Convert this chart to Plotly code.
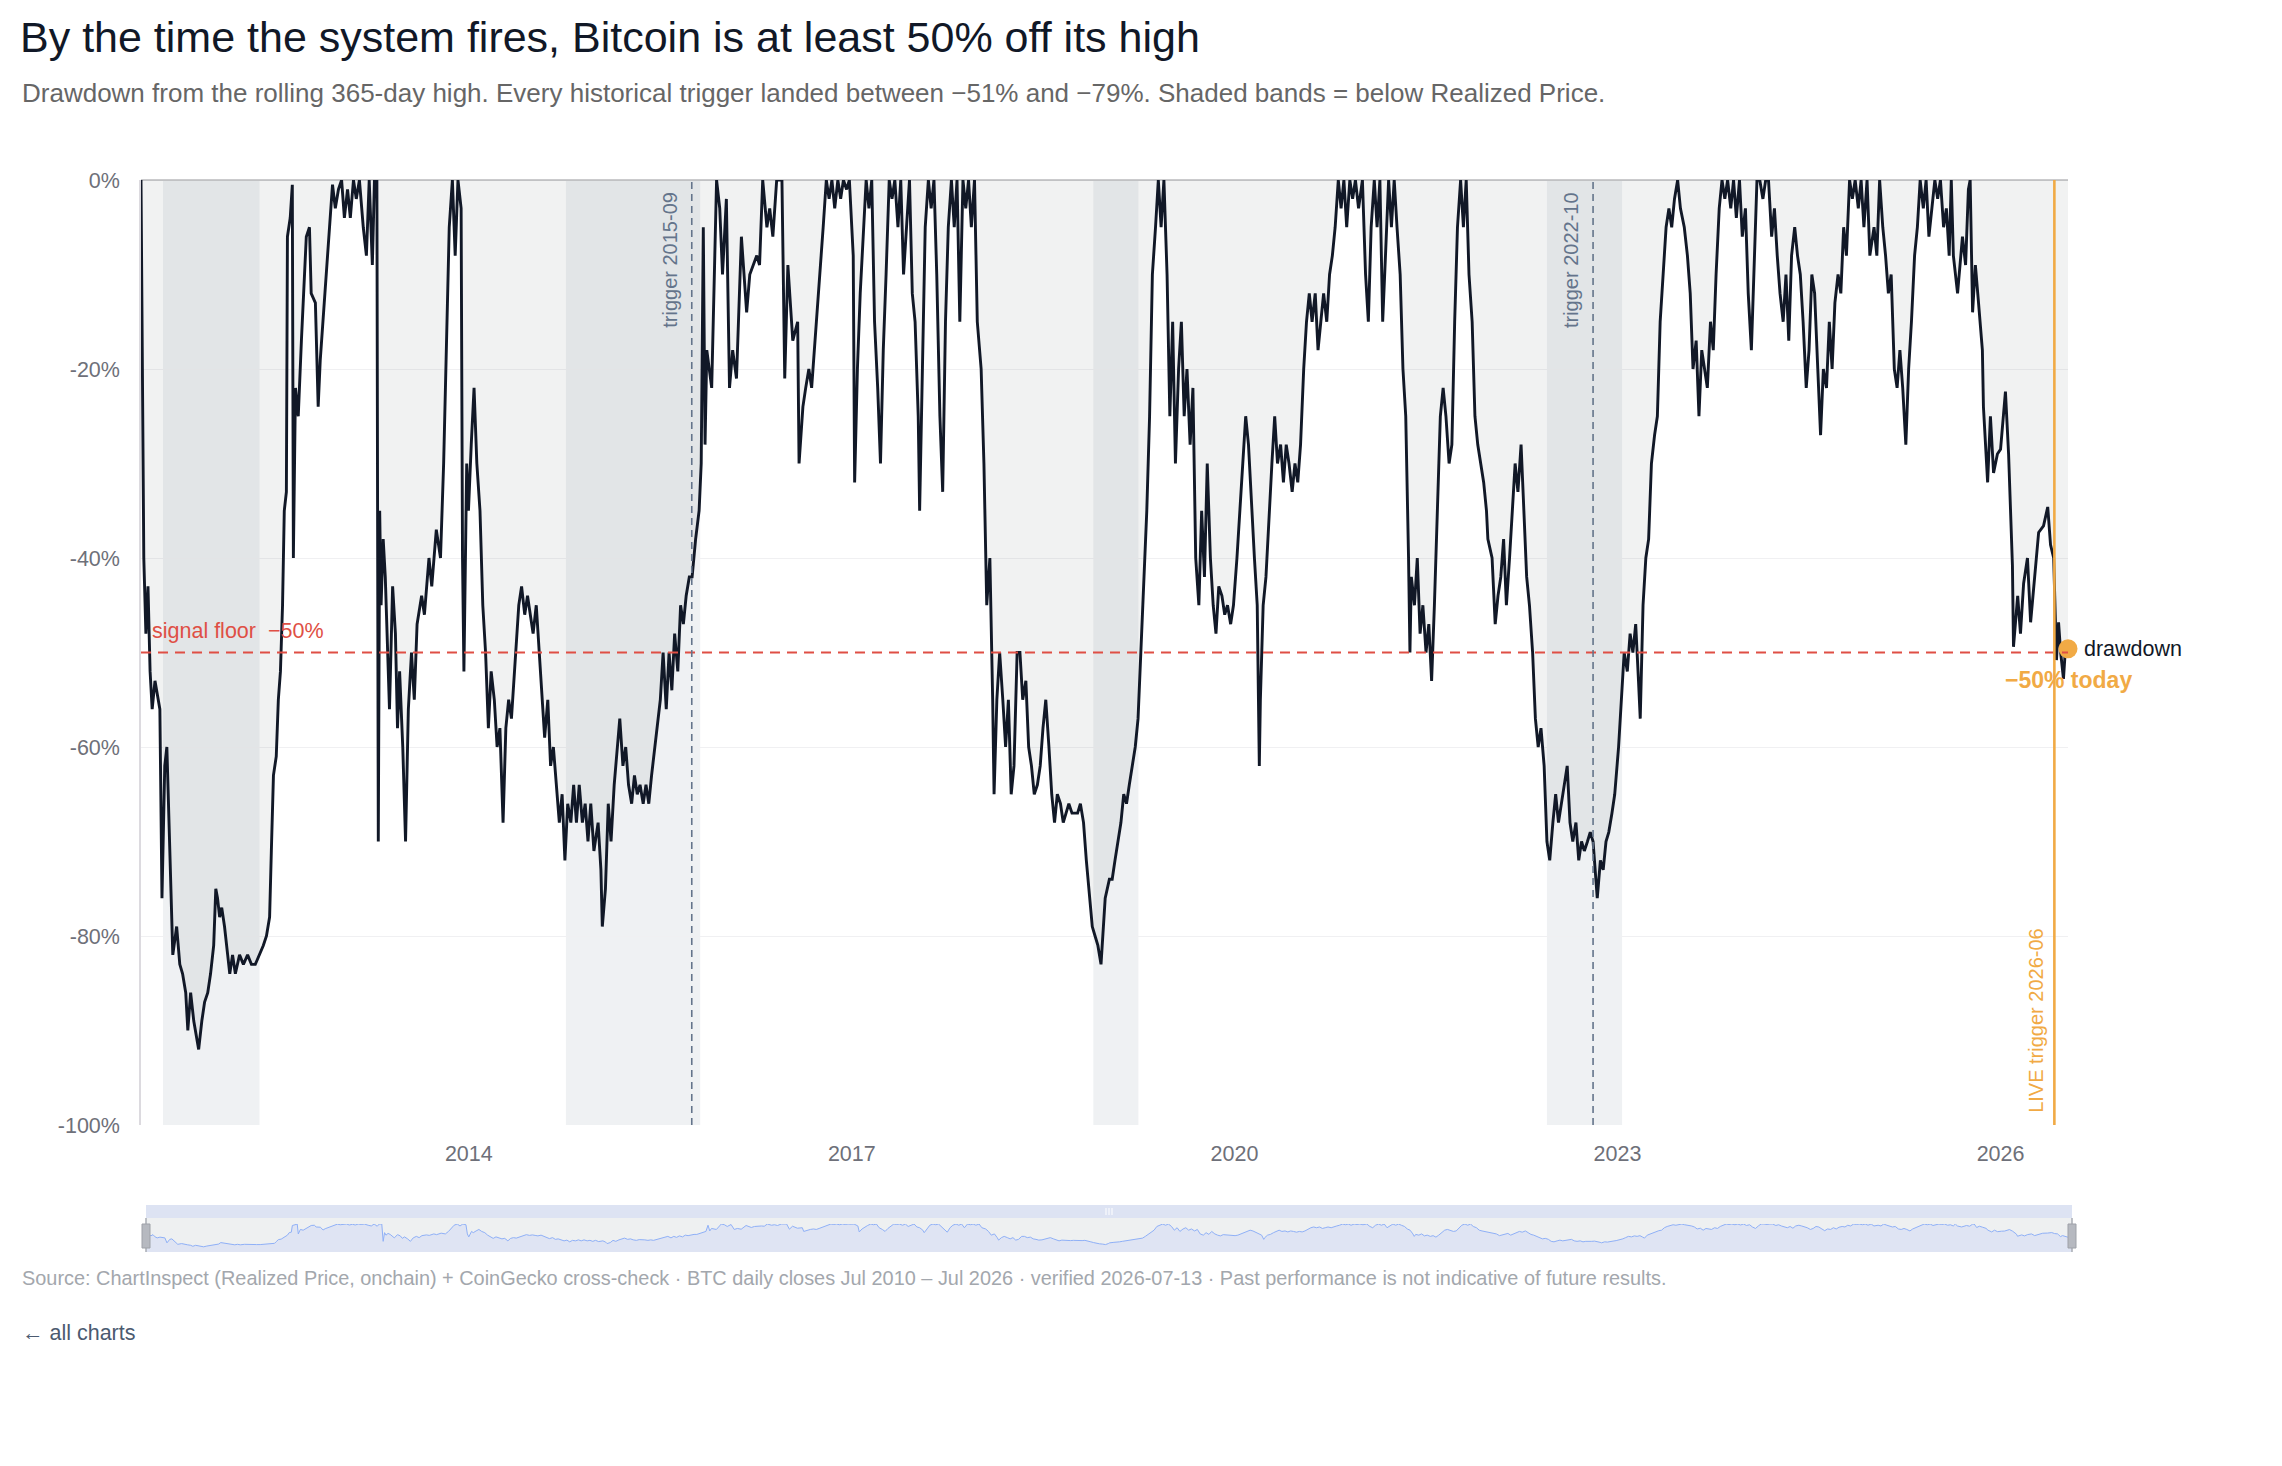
import plotly.graph_objects as go

# ---------------- data ----------------
dates = [
    # 2011
    "2011-06-08","2011-06-11","2011-06-16","2011-06-22","2011-06-28","2011-07-04","2011-07-10","2011-07-18",
    "2011-07-26","2011-08-01","2011-08-07","2011-08-15","2011-08-21","2011-08-29","2011-09-07","2011-09-18",
    "2011-09-27","2011-10-05","2011-10-14","2011-10-20","2011-10-28","2011-11-06","2011-11-14","2011-11-20",
    "2011-11-29","2011-12-07","2011-12-16","2011-12-24",
    # 2012
    "2012-01-02","2012-01-08","2012-01-13","2012-01-19","2012-01-25","2012-02-02","2012-02-11","2012-02-17",
    "2012-02-25","2012-03-04","2012-03-16","2012-03-27","2012-04-08","2012-04-19","2012-04-30","2012-05-12",
    "2012-05-23","2012-06-01","2012-06-10","2012-06-15","2012-06-21","2012-06-29","2012-07-05","2012-07-11",
    "2012-07-17","2012-07-22","2012-07-28","2012-07-31","2012-08-08","2012-08-14","2012-08-17","2012-08-23",
    "2012-08-31","2012-09-09","2012-09-17","2012-09-23","2012-10-02","2012-10-07","2012-10-19","2012-10-27",
    "2012-11-02","2012-11-14","2012-11-25","2012-12-07","2012-12-15","2012-12-24",
    # 2013
    "2013-01-02","2013-01-10","2013-01-19","2013-01-27","2013-02-05","2013-02-13","2013-02-22","2013-03-05",
    "2013-03-14","2013-03-22","2013-03-31","2013-04-06","2013-04-09","2013-04-13","2013-04-17","2013-04-21",
    "2013-04-25","2013-05-01","2013-05-07","2013-05-15","2013-05-19","2013-05-28","2013-06-05","2013-06-11",
    "2013-06-17","2013-06-26","2013-07-04","2013-07-12","2013-07-21","2013-07-29","2013-08-06","2013-08-19",
    "2013-08-27","2013-09-09","2013-09-17","2013-09-30","2013-10-12","2013-10-21","2013-10-29","2013-11-06",
    "2013-11-15","2013-11-23","2013-12-01","2013-12-10","2013-12-14","2013-12-18","2013-12-26","2013-12-31",
    # 2014
    "2014-01-08","2014-01-16","2014-01-24","2014-02-02","2014-02-10","2014-02-18","2014-02-26","2014-03-06",
    "2014-03-15","2014-03-23","2014-03-31","2014-04-09","2014-04-17","2014-04-25","2014-05-03","2014-05-16",
    "2014-05-24","2014-06-01","2014-06-10","2014-06-18","2014-06-26","2014-07-04","2014-07-13","2014-07-21",
    "2014-07-29","2014-08-06","2014-08-15","2014-08-23","2014-08-31","2014-09-08","2014-09-17","2014-09-25",
    "2014-10-03","2014-10-11","2014-10-20","2014-10-28","2014-11-05","2014-11-13","2014-11-22","2014-11-30",
    "2014-12-08","2014-12-16","2014-12-25",
    # 2015
    "2015-01-06","2015-01-14","2015-01-18","2015-01-27","2015-02-04","2015-02-12","2015-02-21","2015-03-01",
    "2015-03-09","2015-03-18","2015-03-26","2015-04-03","2015-04-12","2015-04-20","2015-04-28","2015-05-06",
    "2015-05-15","2015-05-23","2015-05-31","2015-06-08","2015-06-17","2015-06-25","2015-07-03","2015-07-11",
    "2015-07-20","2015-07-28","2015-08-05","2015-08-13","2015-08-22","2015-08-30","2015-09-07","2015-09-15",
    "2015-09-24","2015-10-02","2015-10-12","2015-10-22","2015-10-28","2015-11-03","2015-11-08","2015-11-13",
    "2015-11-27","2015-12-11","2015-12-20","2015-12-28",
    # 2016
    "2016-01-08","2016-01-17","2016-01-26","2016-02-06","2016-02-20","2016-03-06","2016-03-15","2016-04-04",
    "2016-04-12","2016-04-21","2016-05-03","2016-05-11","2016-05-20","2016-05-31","2016-06-15","2016-06-23",
    "2016-07-02","2016-07-16","2016-07-30","2016-08-03","2016-08-14","2016-08-22","2016-08-31","2016-09-08",
    "2016-09-16","2016-09-25","2016-10-03","2016-10-11","2016-10-20","2016-10-28","2016-11-05","2016-11-13",
    "2016-11-22","2016-11-30","2016-12-08","2016-12-17","2016-12-25",
    # 2017
    "2017-01-05","2017-01-09","2017-01-17","2017-01-25","2017-02-02","2017-02-11","2017-02-19","2017-02-27",
    "2017-03-07","2017-03-16","2017-03-24","2017-04-01","2017-04-09","2017-04-18","2017-04-26","2017-05-04",
    "2017-05-13","2017-05-21","2017-05-29","2017-06-06","2017-06-15","2017-06-23","2017-07-01","2017-07-10",
    "2017-07-14","2017-07-22","2017-07-30","2017-08-08","2017-08-16","2017-08-24","2017-09-01","2017-09-10",
    "2017-09-18","2017-09-26","2017-10-04","2017-10-13","2017-10-21","2017-10-29","2017-11-06","2017-11-15",
    "2017-11-23","2017-12-01","2017-12-09","2017-12-18","2017-12-26",
    # 2018
    "2018-01-06","2018-01-14","2018-01-22","2018-01-31","2018-02-08","2018-02-12","2018-02-20","2018-02-28",
    "2018-03-09","2018-03-17","2018-03-25","2018-04-02","2018-04-10","2018-04-19","2018-04-27","2018-05-05",
    "2018-05-14","2018-05-22","2018-05-30","2018-06-07","2018-06-16","2018-06-24","2018-07-02","2018-07-10",
    "2018-07-19","2018-07-27","2018-08-04","2018-08-12","2018-08-21","2018-08-29","2018-09-06","2018-09-14",
    "2018-09-23","2018-10-01","2018-10-09","2018-10-17","2018-10-26","2018-11-03","2018-11-11","2018-11-20",
    "2018-11-28","2018-12-06","2018-12-15","2018-12-23","2018-12-27",
    # 2019
    "2019-01-08","2019-01-16","2019-01-24","2019-02-01","2019-02-10","2019-02-18","2019-02-26","2019-03-06",
    "2019-03-15","2019-03-23","2019-03-31","2019-04-08","2019-04-17","2019-04-25","2019-05-03","2019-05-11",
    "2019-05-20","2019-05-28","2019-06-05","2019-06-13","2019-06-22","2019-06-30","2019-07-08","2019-07-16",
    "2019-07-25","2019-08-02","2019-08-10","2019-08-18","2019-08-27","2019-09-04","2019-09-12","2019-09-21",
    "2019-09-29","2019-10-07","2019-10-15","2019-10-24","2019-11-01","2019-11-09","2019-11-17","2019-11-26",
    "2019-12-04","2019-12-12","2019-12-21","2019-12-29",
    # 2020
    "2020-01-08","2020-01-17","2020-01-25","2020-02-02","2020-02-10","2020-02-19","2020-02-27","2020-03-06",
    "2020-03-12","2020-03-15","2020-03-23","2020-03-31","2020-04-09","2020-04-17","2020-04-25","2020-05-03",
    "2020-05-12","2020-05-20","2020-05-28","2020-06-05","2020-06-14","2020-06-22","2020-06-30","2020-07-08",
    "2020-07-17","2020-07-25","2020-08-02","2020-08-10","2020-08-19","2020-08-27","2020-09-04","2020-09-12",
    "2020-09-21","2020-09-29","2020-10-07","2020-10-15","2020-10-24","2020-11-01","2020-11-09","2020-11-17",
    "2020-11-26","2020-12-04","2020-12-12","2020-12-21",
    # 2021
    "2021-01-01","2021-01-10","2021-01-18","2021-01-26","2021-02-04","2021-02-12","2021-02-20","2021-02-28",
    "2021-03-08","2021-03-17","2021-03-25","2021-04-02","2021-04-10","2021-04-19","2021-04-27","2021-05-05",
    "2021-05-13","2021-05-17","2021-05-21","2021-05-30","2021-06-07","2021-06-15","2021-06-23","2021-07-02",
    "2021-07-10","2021-07-18","2021-07-26","2021-08-04","2021-08-12","2021-08-20","2021-08-28","2021-09-06",
    "2021-09-14","2021-09-22","2021-09-30","2021-10-09","2021-10-17","2021-10-25","2021-11-02","2021-11-11",
    "2021-11-19","2021-11-27","2021-12-05","2021-12-14","2021-12-22","2021-12-26",
    # 2022
    "2022-01-07","2022-01-16","2022-01-24","2022-02-01","2022-02-09","2022-02-17","2022-02-26","2022-03-06",
    "2022-03-14","2022-03-22","2022-03-31","2022-04-08","2022-04-16","2022-04-24","2022-05-03","2022-05-11",
    "2022-05-19","2022-05-27","2022-06-05","2022-06-13","2022-06-21","2022-06-30","2022-07-08","2022-07-16",
    "2022-07-24","2022-08-02","2022-08-10","2022-08-18","2022-08-26","2022-09-04","2022-09-12","2022-09-20",
    "2022-09-28","2022-10-07","2022-10-15","2022-10-23","2022-10-31","2022-11-04","2022-11-13","2022-11-21",
    "2022-11-29","2022-12-07","2022-12-16","2022-12-24",
    # 2023
    "2023-01-04","2023-01-12","2023-01-20","2023-01-29","2023-02-06","2023-02-14","2023-02-22","2023-03-02",
    "2023-03-07","2023-03-15","2023-03-23","2023-03-31","2023-04-08","2023-04-17","2023-04-25","2023-05-03",
    "2023-05-11","2023-05-20","2023-05-28","2023-06-05","2023-06-13","2023-06-22","2023-06-30","2023-07-11",
    "2023-07-20","2023-07-28","2023-08-05","2023-08-14","2023-08-22","2023-08-30","2023-09-07","2023-09-15",
    "2023-09-24","2023-10-02","2023-10-10","2023-10-19","2023-10-27","2023-11-04","2023-11-12","2023-11-21",
    "2023-11-29","2023-12-07","2023-12-16","2023-12-24",
    # 2024
    "2024-01-02","2024-01-10","2024-01-19","2024-01-27","2024-02-04","2024-02-12","2024-02-21","2024-02-29",
    "2024-03-08","2024-03-17","2024-03-25","2024-04-02","2024-04-10","2024-04-19","2024-04-27","2024-05-05",
    "2024-05-13","2024-05-22","2024-05-30","2024-06-07","2024-06-15","2024-06-24","2024-07-02","2024-07-10",
    "2024-07-18","2024-07-27","2024-08-04","2024-08-12","2024-08-21","2024-08-29","2024-09-06","2024-09-14",
    "2024-09-23","2024-10-01","2024-10-09","2024-10-17","2024-10-26","2024-11-03","2024-11-11","2024-11-20",
    "2024-11-28","2024-12-06","2024-12-15","2024-12-23",
    # 2025
    "2025-01-04","2025-01-12","2025-01-20","2025-01-29","2025-02-06","2025-02-14","2025-02-22","2025-03-03",
    "2025-03-11","2025-03-19","2025-03-27","2025-04-05","2025-04-13","2025-04-21","2025-04-30","2025-05-08",
    "2025-05-16","2025-05-25","2025-06-02","2025-06-10","2025-06-19","2025-06-27","2025-07-05","2025-07-13",
    "2025-07-22","2025-07-30","2025-08-07","2025-08-13","2025-08-19","2025-08-31","2025-09-14","2025-09-23",
    "2025-10-01","2025-10-06","2025-10-13","2025-10-21","2025-10-30","2025-11-10","2025-11-13","2025-11-25",
    "2025-12-03","2025-12-12","2025-12-23",
    # 2026
    "2026-01-01","2026-01-15","2026-01-24","2026-02-04","2026-02-07","2026-02-19","2026-02-27","2026-03-08",
    "2026-03-19","2026-03-28","2026-04-11","2026-04-20","2026-05-04","2026-05-16","2026-05-24","2026-06-02",
    "2026-06-05","2026-06-10","2026-06-16","2026-06-22","2026-06-30","2026-07-06","2026-07-13",
]

drawdown_pct = [
    # 2011
    0, -12, -40, -48, -43, -52, -56, -53, -55, -56, -76, -62, -60, -71, -82, -79, -83, -84, -86, -90,
    -86, -89, -91, -92, -89, -87, -86, -84,
    # 2012
    -81, -75, -76, -78, -77, -79, -82, -84, -82, -84, -82, -83, -82, -83, -83, -82, -81, -80, -78, -71,
    -63, -61, -55, -52, -45, -35, -33, -6, -4, -0.5, -40, -22, -25, -17, -11, -6, -5, -12, -13, -24,
    -19, -13, -7, -0.5, -3, -1,
    # 2013
    0, -4, -1, -4, 0, -2, 0, -5, -8, 0, -9, 0, -1, 0, -70, -35, -45, -38, -42, -50,
    -56, -43, -48, -58, -52, -60, -70, -56, -50, -55, -47, -44, -46, -40, -43, -37, -40, -30, -18, -5,
    0, -8, 0, -3, -40, -52, -30, -35,
    # 2014
    -28, -22, -30, -35, -45, -50, -58, -52, -55, -60, -58, -68, -58, -55, -57, -50, -45, -43, -46, -44,
    -46, -48, -45, -50, -55, -59, -55, -62, -60, -64, -68, -65, -72, -66, -68, -64, -68, -64, -68, -66,
    -70, -66, -71,
    # 2015
    -68, -73, -79, -75, -66, -70, -64, -60, -57, -62, -60, -64, -66, -63, -65, -64, -66, -64, -66, -63,
    -60, -58, -55, -50, -56, -50, -54, -48, -52, -45, -47, -44, -42, -42, -38, -35, -30, -5, -28, -18,
    -22, 0, -3, -10,
    # 2016
    -2, -22, -18, -21, -6, -14, -10, -8, -9, 0, -5, -3, -6, 0, 0, -21, -9, -17, -15, -30,
    -24, -22, -20, -22, -18, -14, -10, -5, 0, -2, 0, -3, 0, -2, 0, -1, 0,
    # 2017
    -8, -32, -20, -12, -6, 0, -3, 0, -15, -22, -30, -18, -10, 0, -2, 0, -5, 0, -10, -5,
    0, -12, -15, -25, -35, -20, -5, 0, -3, 0, -10, -25, -33, -15, -5, 0, -5, 0, -15, 0,
    -3, 0, -5, 0, -15,
    # 2018
    -20, -30, -45, -40, -55, -65, -55, -50, -55, -60, -55, -65, -62, -50, -50, -55, -53, -60, -62, -65,
    -64, -62, -58, -55, -60, -65, -68, -65, -66, -68, -67, -66, -67, -67, -67, -66, -68, -72, -75, -79,
    -80, -81, -83, -79, -76,
    # 2019
    -74, -74, -72, -70, -68, -65, -66, -64, -62, -60, -57, -50, -42, -35, -25, -10, -5, 0, -5, 0,
    -10, -25, -15, -30, -20, -15, -25, -20, -28, -22, -40, -45, -35, -42, -30, -40, -45, -48, -43, -44,
    -46, -45, -47, -45,
    # 2020
    -40, -35, -30, -25, -28, -35, -40, -45, -62, -55, -45, -42, -35, -30, -25, -30, -28, -32, -28, -30,
    -33, -30, -32, -28, -20, -15, -12, -15, -12, -18, -15, -12, -15, -10, -8, -5, 0, -3, 0, -5,
    0, -2, 0, -3,
    # 2021
    0, -10, -15, -5, 0, -5, 0, -15, -8, 0, -5, 0, -5, -10, -20, -25, -40, -50, -42, -45,
    -40, -48, -45, -50, -47, -53, -45, -35, -25, -22, -25, -30, -28, -15, -5, 0, -5, 0, -10, -15,
    -25, -28, -30, -32, -35, -38,
    # 2022
    -40, -47, -44, -42, -38, -45, -40, -35, -30, -33, -28, -35, -42, -45, -50, -57, -60, -58, -62, -70,
    -72, -68, -65, -68, -66, -64, -62, -68, -70, -68, -72, -70, -71, -70, -69, -70, -74, -76, -72, -73,
    -70, -69, -67, -65,
    # 2023
    -60, -55, -50, -52, -48, -50, -47, -53, -57, -45, -40, -38, -30, -27, -25, -15, -10, -5, -3, -5,
    -2, 0, -3, -5, -8, -12, -20, -17, -25, -18, -20, -22, -15, -18, -10, -3, 0, -2, 0, -3,
    0, -4, 0, -6,
    # 2024
    -3, -12, -18, -8, 0, 0, -2, 0, 0, -6, -3, -8, -12, -15, -10, -17, -8, -5, -8, -10,
    -15, -22, -18, -10, -12, -20, -27, -20, -22, -15, -20, -13, -10, -12, -5, -8, 0, -2, 0, -3,
    0, -5, 0, -8,
    # 2025
    -5, -8, 0, -5, -8, -12, -10, -20, -22, -18, -22, -28, -20, -15, -8, -5, 0, -3, 0, -6,
    -3, 0, -2, 0, -5, -3, -8, 0, -8, -12, -6, -9, -1, 0, -14, -9, -13, -18, -24, -32,
    -25, -31, -29,
    # 2026
    -28.5, -22.4, -29, -40.8, -49.4, -44, -48, -42.7, -40, -46.8, -41, -37.3, -36.6, -34.6, -38.6, -40,
    -44, -50.8, -46.8, -50, -52.8, -49.4, -49.6,
]

band_start = ["2011-08-10", "2014-10-06", "2018-11-23", "2022-06-13"]
band_end = ["2012-05-12", "2015-10-25", "2019-04-01", "2023-01-14"]
trigger_dates = ["2015-10-01", "2022-10-23"]
trigger_labels = ["trigger 2015-09", "trigger 2022-10"]
live_date = "2026-06-04"
live_label = "LIVE trigger 2026-06"
signal_floor = -50
y_tick_vals = [0, -20, -40, -60, -80, -100]
x_tick_vals = ["2014-01-01", "2017-01-01", "2020-01-01", "2023-01-01", "2026-01-01"]
x_tick_text = ["2014", "2017", "2020", "2023", "2026"]

assert len(dates) == len(drawdown_pct)

# ---------------- styling / layout ----------------
W, H = 2282, 1466
L, R, T, B = 141, 2072, 180, 1252          # paper area in pixels
MAIN_RIGHT, MAIN_BOTTOM = 2068, 1125
FONT = "Liberation Sans, Arial, Helvetica, sans-serif"
NAVY = "#111827"
ORANGE = "#f1aa45"
RED = "#df4f45"
SLATE = "#64748b"
TICK = "#6e7079"


def px(x):
    return (x - L) / (R - L)


def py(y):
    return (B - y) / (B - T)


fig = go.Figure()

fig.add_trace(go.Scatter(
    x=dates, y=drawdown_pct, mode="lines", name="drawdown",
    line=dict(color=NAVY, width=2.9), fill="tozeroy",
    fillcolor="rgba(100,116,110,0.09)", hoverinfo="skip",
    xaxis="x", yaxis="y",
))
fig.add_trace(go.Scatter(
    x=[dates[-1]], y=[drawdown_pct[-1]], mode="markers",
    marker=dict(color=ORANGE, size=19), cliponaxis=False, hoverinfo="skip",
    xaxis="x", yaxis="y",
))
# data-zoom style overview strip
fig.add_trace(go.Scatter(
    x=dates, y=drawdown_pct, mode="lines",
    line=dict(color="#8fb0f7", width=1), fill="tozeroy", fillcolor="#eef0f1",
    hoverinfo="skip", xaxis="x2", yaxis="y2",
))

shapes = []
for s, e in zip(band_start, band_end):
    shapes.append(dict(type="rect", xref="x", yref="y", x0=s, x1=e, y0=-100, y1=0,
                       fillcolor="rgba(100,116,139,0.10)", line=dict(width=0), layer="below"))
shapes.append(dict(type="line", xref="x domain", yref="y", x0=0, x1=1,
                   y0=signal_floor, y1=signal_floor,
                   line=dict(color=RED, width=2, dash="10px,7px")))
for d in trigger_dates:
    shapes.append(dict(type="line", xref="x", yref="y domain", x0=d, x1=d, y0=0, y1=1,
                       line=dict(color=SLATE, width=1.6, dash="7px,5px")))
shapes.append(dict(type="line", xref="x", yref="y domain", x0=live_date, x1=live_date,
                   y0=0, y1=1, line=dict(color=ORANGE, width=2.6)))

# overview strip decoration
LAV = "#dfe4f3"
shapes += [
    dict(type="rect", xref="paper", yref="paper", x0=px(146), x1=1, y0=0, y1=py(1218),
         fillcolor=LAV, line=dict(width=0), layer="below"),
    dict(type="rect", xref="paper", yref="paper", x0=px(146), x1=1, y0=py(1224), y1=py(1218),
         fillcolor="#eef0f1", line=dict(width=0), layer="below"),
    dict(type="rect", xref="paper", yref="paper", x0=px(146), x1=1, y0=py(1218), y1=py(1205),
         fillcolor="#dde3f3", line=dict(width=0), layer="below"),
]
for hx in (146, 2072):
    shapes.append(dict(type="line", xref="paper", yref="paper", x0=px(hx), x1=px(hx),
                       y0=0, y1=py(1218), line=dict(color="#a9acb3", width=1.5)))
    shapes.append(dict(type="rect", xref="paper", yref="paper", x0=px(hx - 4), x1=px(hx + 4),
                       y0=py(1248), y1=py(1224), fillcolor="#b6b9c0",
                       line=dict(color="#9ea1a8", width=1)))
for gx in (1106, 1109, 1112):
    shapes.append(dict(type="line", xref="paper", yref="paper", x0=px(gx), x1=px(gx),
                       y0=py(1215), y1=py(1208), line=dict(color="#ffffff", width=1)))

today_label = "\u2212{}% today".format(abs(round(drawdown_pct[-1])))
floor_label = "signal floor\u00a0 \u2212{}%".format(abs(signal_floor))

annotations = [
    dict(xref="paper", yref="paper", x=px(20), y=py(93), xanchor="left", yanchor="middle",
         showarrow=False, align="left",
         text="Drawdown from the rolling 365-day high. Every historical trigger landed between "
              "\u221251% and \u221279%. Shaded bands = below Realized Price.",
         font=dict(size=26, color="#666666")),
    dict(xref="paper", yref="paper", x=px(20), y=py(1278), xanchor="left", yanchor="middle",
         showarrow=False, align="left",
         text="Source: ChartInspect (Realized Price, onchain) + CoinGecko cross-check \u00b7 BTC daily closes "
              "Jul 2010 \u2013 Jul 2026 \u00b7 verified 2026-07-13 \u00b7 Past performance is not indicative "
              "of future results.",
         font=dict(size=19.9, color="#a3a7ad")),
    dict(xref="paper", yref="paper", x=px(20), y=py(1333), xanchor="left", yanchor="middle",
         showarrow=False, text="\u2190 all charts", font=dict(size=21.5, color="#4b5a70")),
    dict(xref="x domain", yref="y", x=0, y=signal_floor, xanchor="left", yanchor="middle",
         xshift=9, yshift=22, showarrow=False, text=floor_label,
         font=dict(size=21.5, color=RED)),
    dict(xref="x", yref="y", x=dates[-1], y=drawdown_pct[-1], xanchor="left", yanchor="middle",
         xshift=14, yshift=0, showarrow=False, text="drawdown",
         font=dict(size=21.5, color=NAVY)),
    dict(xref="x", yref="y", x=dates[-1], y=drawdown_pct[-1], xanchor="center", yanchor="middle",
         yshift=-31, showarrow=False, text="<b>" + today_label + "</b>",
         font=dict(size=23, color=ORANGE)),
    dict(xref="x", yref="y domain", x=live_date, y=0, xanchor="right", yanchor="bottom",
         xshift=-6, yshift=10, textangle=-90, showarrow=False, text=live_label,
         font=dict(size=20, color=ORANGE)),
]
for d, t in zip(trigger_dates, trigger_labels):
    annotations.append(dict(xref="x", yref="y domain", x=d, y=1, xanchor="right", yanchor="top",
                            xshift=-9, yshift=-10, textangle=-90, showarrow=False, text=t,
                            font=dict(size=20, color=SLATE)))

fig.update_layout(
    width=W, height=H,
    margin=dict(l=L, r=W - R, t=T, b=H - B, pad=0),
    paper_bgcolor="white", plot_bgcolor="rgba(0,0,0,0)",
    showlegend=False, hovermode=False,
    font=dict(family=FONT, color=TICK),
    title=dict(text="By the time the system fires, Bitcoin is at least 50% off its high",
               xref="container", yref="container", x=20 / W, y=1 - 37 / H,
               xanchor="left", yanchor="middle",
               font=dict(size=43, color=NAVY, family=FONT)),
    xaxis=dict(domain=[0, px(MAIN_RIGHT)], anchor="y", type="date",
               range=[dates[0], dates[-1]], tickvals=x_tick_vals, ticktext=x_tick_text,
               showgrid=False, zeroline=False, showline=False, ticks="",
               ticklabelstandoff=13, tickfont=dict(size=21.5, color=TICK)),
    yaxis=dict(domain=[py(MAIN_BOTTOM), 1], anchor="x", range=[-100, 0],
               tickvals=y_tick_vals, ticktext=["{}%".format(v) for v in y_tick_vals],
               showgrid=True, gridcolor="#f0f0f2", gridwidth=1,
               zeroline=True, zerolinecolor="#cbcbcd", zerolinewidth=1.5,
               showline=True, linecolor="#dcdadf", linewidth=1.5, ticks="",
               ticklabelstandoff=15, tickfont=dict(size=21.5, color=TICK)),
    xaxis2=dict(domain=[px(146), 1], anchor="y2", type="date",
                range=[dates[0], dates[-1]], visible=False),
    yaxis2=dict(domain=[0, py(1224)], anchor="x2", range=[-113, 0], visible=False),
    shapes=shapes,
    annotations=annotations,
)

fig.write_html("out.html", config={"displayModeBar": False})
